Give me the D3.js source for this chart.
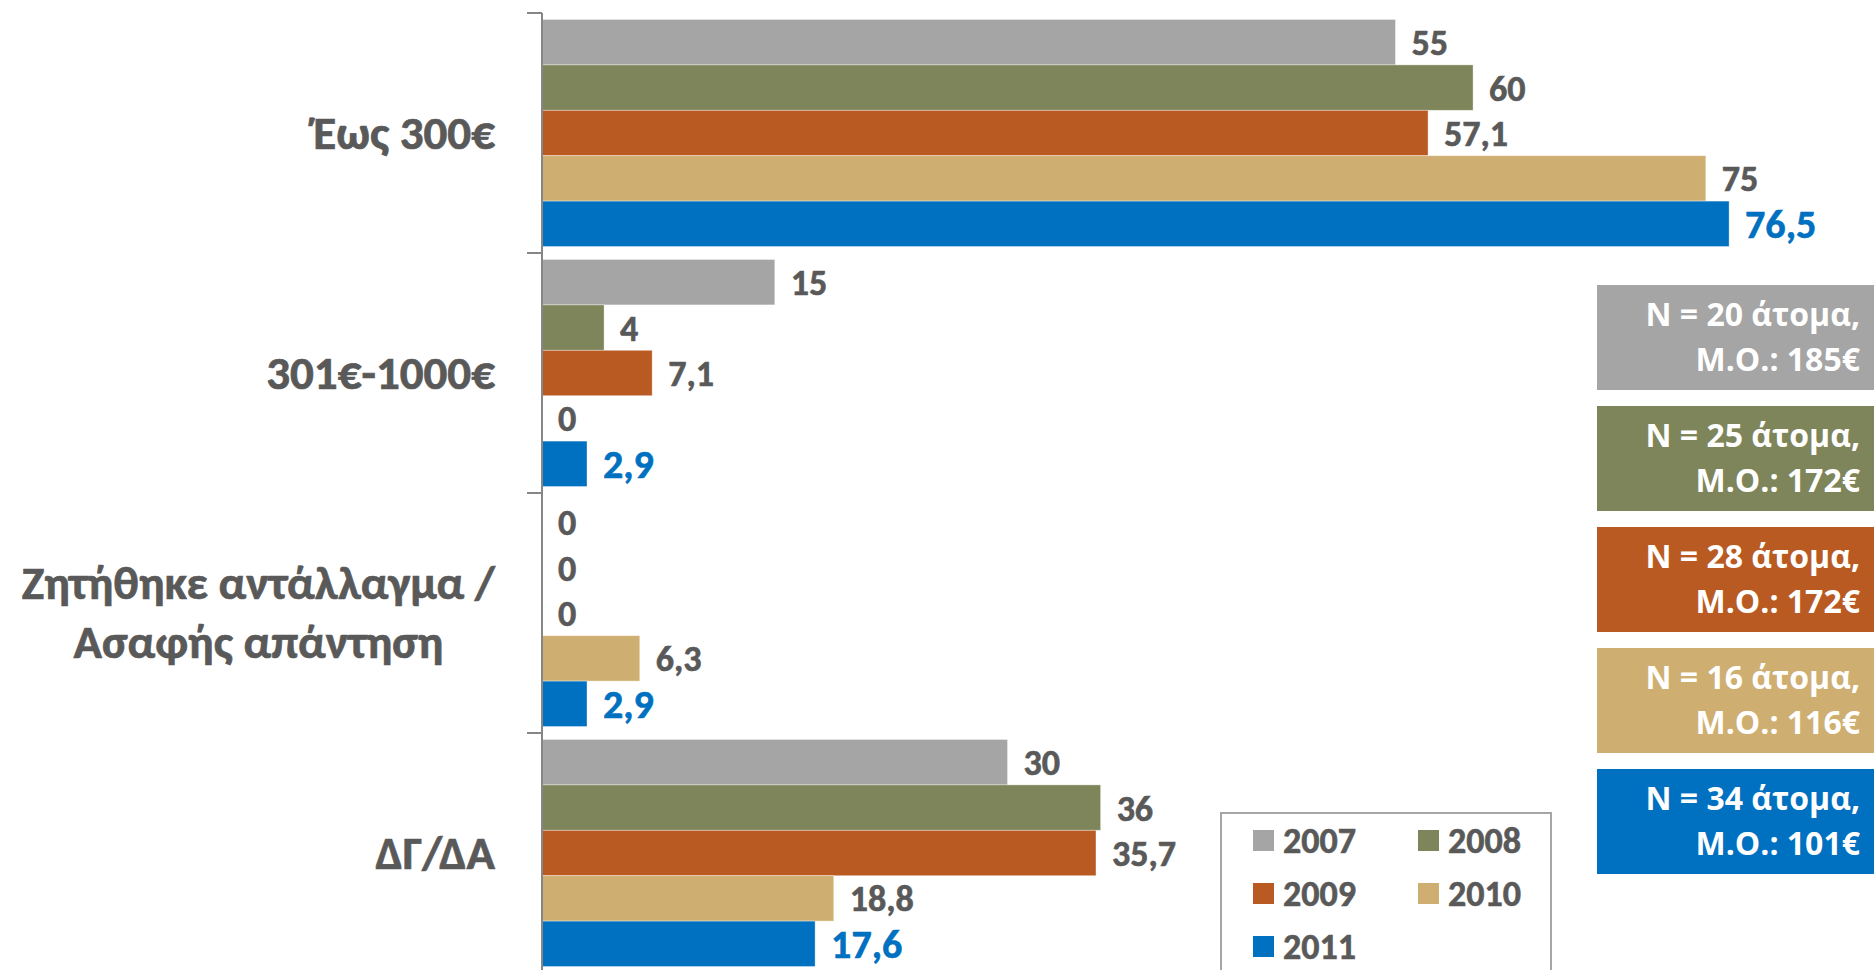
<!DOCTYPE html>
<html>
<head>
<meta charset="utf-8">
<script src="https://cdn.jsdelivr.net/npm/d3@7"></script>
<style>
  html, body { margin: 0; padding: 0; background: #fff; overflow: hidden; }
  svg { display: block; }
  .cal { font-family: Carlito, Calibri, 'Liberation Sans Narrow', 'Open Sans', sans-serif; font-weight: 700; }
  .box { font-family: 'Open Sans', 'Noto Sans', sans-serif; font-weight: 700; }
</style>
</head>
<body>
<div id="chart"></div>
<script>
// categories (top to bottom), years and values
const categories = ['Έως 300€', '301€-1000€', 'Ζητήθηκε αντάλλαγμα /\nΑσαφής απάντηση', 'ΔΓ/ΔΑ'];
const years      = ['2007', '2008', '2009', '2010', '2011'];
const v2007 = [55, 15, 0, 30];
const v2008 = [60, 4, 0, 36];
const v2009 = [57.1, 7.1, 0, 35.7];
const v2010 = [75, 0, 6.3, 18.8];
const v2011 = [76.5, 2.9, 2.9, 17.6];
const seriesValues = [v2007, v2008, v2009, v2010, v2011];
const colors = ['#A5A5A5', '#7F855A', '#B95A23', '#CFAE71', '#0070C0'];

// side notes per year
const sampleN  = [20, 25, 28, 16, 34];
const meanCost = [185, 172, 172, 116, 101];

const W = 1874, H = 970;
const textGray = '#595959';

const locale = d3.formatLocale({ decimal: ',', thousands: '.', grouping: [3], currency: ['', '€'] });
const fmt = locale.format('~f');

const svg = d3.select('#chart').append('svg').attr('width', W).attr('height', H);

const x = d3.scaleLinear().domain([0, 85]).range([542, 1861]);
const y = d3.scaleBand().domain(categories).range([13, 13 + 4 * 240]).padding(0);
const yInner = d3.scaleBand().domain(years).range([0, y.bandwidth()])
  .paddingInner(0).paddingOuter(0.143);

// ── Bars + labels ───────────────────────────────────────────────────────────
const rows = [];
categories.forEach((c, ci) => {
  years.forEach((yr, si) => rows.push({ cat: c, year: yr, si, value: seriesValues[si][ci] }));
});

svg.append('g').selectAll('rect')
  .data(rows)
  .join('rect')
  .attr('x', x(0))
  .attr('y', d => y(d.cat) + yInner(d.year))
  .attr('width', d => x(d.value) - x(0))
  .attr('height', yInner.bandwidth())
  .attr('fill', d => colors[d.si])
  .attr('stroke', '#fff')
  .attr('stroke-opacity', .45)
  .attr('stroke-width', .8);

svg.append('g').selectAll('text')
  .data(rows)
  .join('text')
  .attr('class', 'cal')
  .attr('x', d => x(d.value) + 16)
  .attr('y', d => y(d.cat) + yInner(d.year) + yInner.bandwidth() / 2)
  .attr('dy', '.36em')
  .attr('fill', d => d.si === 4 ? '#0070C0' : textGray)
  .attr('stroke', d => d.si === 4 ? '#0070C0' : textGray)
  .attr('stroke-width', .6)
  .attr('font-size', d => d.si === 4 ? 40 : 36)
  .text(d => fmt(d.value));

// ── Axis ────────────────────────────────────────────────────────────────────
const axis = svg.append('g');
axis.append('line')
  .attr('x1', x(0)).attr('x2', x(0))
  .attr('y1', y.range()[0]).attr('y2', H)
  .attr('stroke', '#868686').attr('stroke-width', 2);
axis.selectAll('.tick')
  .data(d3.range(categories.length + 1))
  .join('line')
  .attr('x1', x(0) - 15).attr('x2', x(0))
  .attr('y1', i => y.range()[0] + i * y.step())
  .attr('y2', i => y.range()[0] + i * y.step())
  .attr('stroke', '#868686').attr('stroke-width', 2);

// category labels: right edge near axis, wrapped lines centred on each other
const labelRight = 495;
categories.forEach(c => {
  const lines = c.split('\n');
  const lh = 59;
  const cy = y(c) + y.bandwidth() / 2;
  const g = svg.append('g');
  const ts = lines.map((ln, i) => g.append('text')
    .attr('class', 'cal')
    .attr('font-size', 47)
    .attr('fill', textGray)
    .attr('stroke', textGray)
    .attr('stroke-width', .7)
    .attr('y', cy + (i - (lines.length - 1) / 2) * lh)
    .attr('dy', '.33em')
    .text(ln));
  const widths = ts.map(t => t.node().getComputedTextLength());
  const maxW = d3.max(widths);
  const centre = labelRight - maxW / 2;
  ts.forEach(t => t.attr('x', centre).attr('text-anchor', 'middle'));
});

// ── Coloured note boxes (N, mean) ───────────────────────────────────────────
const boxes = svg.append('g');
years.forEach((yr, i) => {
  const top = 285 + i * 121;
  boxes.append('rect')
    .attr('x', 1597).attr('y', top)
    .attr('width', W - 1597).attr('height', 105)
    .attr('fill', colors[i]);
  boxes.append('text')
    .attr('class', 'box')
    .attr('x', 1860).attr('y', top + 41)
    .attr('text-anchor', 'end')
    .attr('font-size', 32).attr('fill', '#fff')
    .text(`N = ${sampleN[i]} άτομα,`);
  boxes.append('text')
    .attr('class', 'box')
    .attr('x', 1860).attr('y', top + 86)
    .attr('text-anchor', 'end')
    .attr('font-size', 32).attr('fill', '#fff')
    .text(`Μ.Ο.: ${meanCost[i]}€`);
});

// ── Legend ──────────────────────────────────────────────────────────────────
const legend = svg.append('g');
legend.append('rect')
  .attr('x', 1221).attr('y', 813)
  .attr('width', 330).attr('height', 200)
  .attr('fill', '#fff')
  .attr('stroke', '#a6a6a6').attr('stroke-width', 2);
years.forEach((yr, i) => {
  const col = i % 2, row = Math.floor(i / 2);
  const lx = 1253 + col * 165, ly = 830 + row * 53;
  legend.append('rect')
    .attr('x', lx).attr('y', ly)
    .attr('width', 21).attr('height', 21)
    .attr('fill', colors[i]);
  legend.append('text')
    .attr('class', 'cal')
    .attr('x', lx + 30).attr('y', ly + 10.5)
    .attr('dy', '.36em')
    .attr('font-size', 36)
    .attr('fill', textGray)
    .attr('stroke', textGray)
    .attr('stroke-width', .6)
    .text(yr);
});
</script>
</body>
</html>
